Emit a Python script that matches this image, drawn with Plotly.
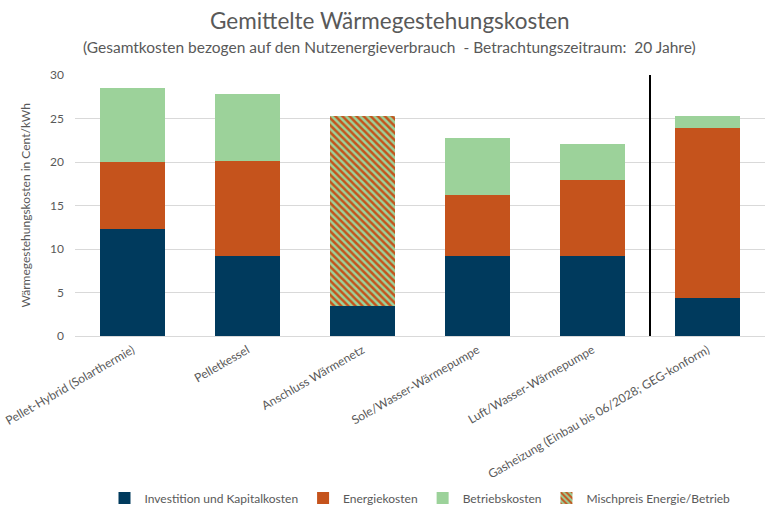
import plotly.graph_objects as go

categories = [
    "Pellet-Hybrid (Solarthermie)",
    "Pelletkessel",
    "Anschluss Wärmenetz",
    "Sole/Wasser-Wärmepumpe",
    "Luft/Wasser-Wärmepumpe",
    "Gasheizung (Einbau bis 06/2028; GEG-konform)",
]
investition = [12.35, 9.15, 3.5, 9.2, 9.2, 4.4]
energie = [7.6, 11.0, None, 7.0, 8.7, 19.5]
betrieb = [8.6, 7.7, None, 6.6, 4.2, 1.4]
mischpreis = [None, None, 21.8, None, None, None]

C_NAVY = "#003a5d"
C_ORANGE = "#c5531c"
C_GREEN = "#9cd29a"
GRAY = "#595959"
FONT = "Lato, Open Sans, sans-serif"

fig = go.Figure()
fig.add_bar(x=categories, y=investition, name="Investition und Kapitalkosten",
            marker=dict(color=C_NAVY, line=dict(width=0)))
fig.add_bar(x=categories, y=energie, name="Energiekosten",
            marker=dict(color=C_ORANGE, line=dict(width=0)))
fig.add_bar(x=categories, y=betrieb, name="Betriebskosten",
            marker=dict(color=C_GREEN, line=dict(width=0)))
fig.add_bar(x=categories, y=mischpreis, name="Mischpreis Energie/Betrieb",
            marker=dict(color=C_GREEN, line=dict(width=0),
                        pattern=dict(shape="\\", fgcolor=C_ORANGE, bgcolor=C_GREEN,
                                     size=5, solidity=0.5, fillmode="replace")))

fig.add_shape(type="line", xref="x", yref="paper", x0=4.5, x1=4.5, y0=0, y1=1,
              line=dict(color="black", width=2))

fig.add_annotation(text="Gemittelte Wärmegestehungskosten", xref="paper", yref="paper",
                   x=0.4565, y=1, yshift=55, xanchor="center", yanchor="middle",
                   showarrow=False, font=dict(size=22.5, color=GRAY, family=FONT))
fig.add_annotation(text="(Gesamtkosten bezogen auf den Nutzenergieverbrauch  - Betrachtungszeitraum:  20 Jahre)",
                   xref="paper", yref="paper", x=0.4565, y=1, yshift=28,
                   xanchor="center", yanchor="middle",
                   showarrow=False, font=dict(size=15.5, color=GRAY, family=FONT))
fig.add_annotation(text="Wärmegestehungskosten in Cent/kWh", xref="paper", yref="paper",
                   x=0, y=0.5, xshift=-50, xanchor="center", yanchor="middle",
                   textangle=-90, showarrow=False,
                   font=dict(size=12, color=GRAY, family=FONT))

fig.update_layout(
    width=780, height=519,
    barmode="stack", bargap=0.435,
    plot_bgcolor="white", paper_bgcolor="white",
    margin=dict(l=75, r=15, t=75, b=183, autoexpand=False),
    font=dict(family=FONT, color=GRAY, size=12),
    showlegend=True,
    legend=dict(orientation="h", x=0.5, xanchor="center",
                yref="container", y=1 - 498 / 519, yanchor="middle",
                font=dict(size=12, color=GRAY, family=FONT), traceorder="normal",
                itemwidth=30),
    xaxis=dict(tickangle=-30, tickfont=dict(size=12, color=GRAY), showgrid=False,
               showline=False, ticks="", automargin=False, ticklabelstandoff=4),
    yaxis=dict(range=[0, 30], dtick=5, showgrid=True, gridcolor="#d9d9d9",
               zeroline=True, zerolinecolor="#d9d9d9", zerolinewidth=1,
               tickfont=dict(size=12, color=GRAY), ticks="", automargin=False,
               ticklabelstandoff=10),
)

fig.write_html("out.html")
